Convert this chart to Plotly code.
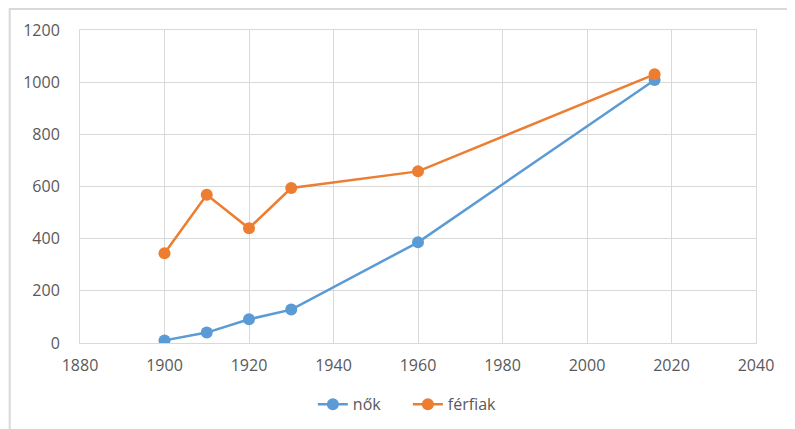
import plotly.graph_objects as go

years = [1900, 1910, 1920, 1930, 1960, 2016]
nok = [10, 40, 91, 128, 386, 1008]
ferfiak = [344, 568, 440, 594, 658, 1030]
x_ticks = [1880, 1900, 1920, 1940, 1960, 1980, 2000, 2020, 2040]
y_ticks = [0, 200, 400, 600, 800, 1000, 1200]

BLUE = "#5b9bd5"
ORANGE = "#ed7d31"
FONT = "Open Sans, Liberation Sans, sans-serif"

fig = go.Figure()
fig.add_trace(go.Scatter(x=years, y=nok, name="nők", mode="lines+markers",
                         line=dict(color=BLUE, width=2.5),
                         marker=dict(color=BLUE, size=12)))
fig.add_trace(go.Scatter(x=years, y=ferfiak, name="férfiak", mode="lines+markers",
                         line=dict(color=ORANGE, width=2.5),
                         marker=dict(color=ORANGE, size=12)))

fig.update_layout(
    width=795, height=429,
    margin=dict(l=72, r=47, t=22, b=94, autoexpand=False),
    paper_bgcolor="white", plot_bgcolor="white",
    font=dict(family=FONT, size=16, color="#595959"),
    showlegend=True,
    legend=dict(orientation="h", x=0.485, xanchor="center", y=-0.196, yanchor="middle",
                font=dict(size=16, color="#595959"), entrywidth=50, entrywidthmode="pixels"),
    xaxis=dict(range=[1880, 2040], tickvals=x_ticks, showgrid=True, gridcolor="#d9d9d9",
               gridwidth=1, zeroline=False, showline=True, linecolor="#d9d9d9",
               mirror=True, ticks="", ticklabelstandoff=8, automargin=False),
    yaxis=dict(range=[0, 1200], tickvals=y_ticks, showgrid=True, gridcolor="#d9d9d9",
               gridwidth=1, zeroline=False, showline=True, linecolor="#d9d9d9",
               mirror=True, ticks="", ticklabelstandoff=16, automargin=False),
    shapes=[dict(type="rect", xref="paper", yref="paper",
                 x0=-0.104, x1=1.2, y0=-0.5, y1=1.067,
                 line=dict(color="#d9d9d9", width=2), layer="below")],
)

fig.write_html("out.html")
